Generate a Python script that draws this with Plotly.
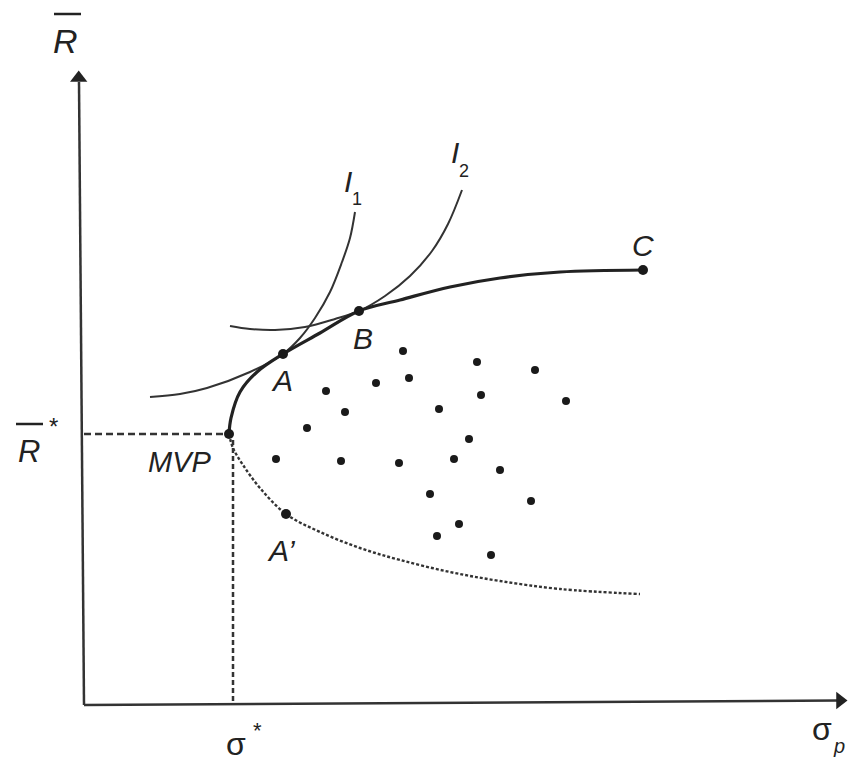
import plotly.graph_objects as go

# Data (pixel-like units, y grows downward)
frontier_upper_x = [229, 231, 240, 257, 283, 320, 359, 400, 450, 500, 560, 643]
frontier_upper_y = [434, 418, 392, 372, 354, 333, 311, 300, 287, 278, 272, 270]
frontier_lower_x = [229, 233, 243, 260, 286, 320, 360, 400, 450, 500, 560, 640]
frontier_lower_y = [434, 448, 465, 488, 514, 532, 548, 560, 572, 581, 589, 594]
i1_x = [150, 180, 207, 250, 283, 300, 315, 330, 342, 350, 355]
i1_y = [397, 394, 388, 372, 354, 338, 318, 292, 262, 238, 212]
i2_x = [230, 250, 275, 305, 335, 359, 385, 410, 432, 448, 462]
i2_y = [326, 329, 330, 327, 319, 311, 296, 276, 251, 224, 190]
key_names = ["MVP", "A", "B", "C", "A'"]
key_x = [229, 283, 359, 643, 286]
key_y = [434, 354, 311, 270, 514]
asset_x = [403, 477, 535, 326, 376, 409, 481, 566, 345, 439, 307, 469,
           276, 341, 399, 454, 500, 430, 531, 459, 437, 491]
asset_y = [351, 362, 370, 391, 383, 378, 395, 401, 412, 409, 428, 439,
           459, 461, 463, 459, 470, 494, 501, 524, 536, 555]
mvp_sigma = 233
mvp_r = 434
origin_x = 84
origin_y = 705

FONT = "Liberation Sans"
INK = "#222"

fig = go.Figure()

# axes
fig.add_trace(go.Scatter(x=[origin_x, 79], y=[origin_y, 82], mode="lines",
                         line=dict(color="#333", width=2.5), hoverinfo="skip"))
fig.add_trace(go.Scatter(x=[origin_x, 838], y=[origin_y, 700.5], mode="lines",
                         line=dict(color="#333", width=2.5), hoverinfo="skip"))
fig.add_trace(go.Scatter(x=[78.7], y=[78], mode="markers",
                         marker=dict(symbol="triangle-up", size=15, color="#222"),
                         hoverinfo="skip"))
fig.add_trace(go.Scatter(x=[840], y=[700.5], mode="markers",
                         marker=dict(symbol="triangle-right", size=15, color="#222"),
                         hoverinfo="skip"))

# dashed guides
fig.add_trace(go.Scatter(x=[origin_x, mvp_sigma - 4], y=[mvp_r, mvp_r], mode="lines",
                         line=dict(color="#333", width=2.5, dash="7px,4px"), hoverinfo="skip"))
fig.add_trace(go.Scatter(x=[mvp_sigma, mvp_sigma], y=[mvp_r + 6, origin_y], mode="lines",
                         line=dict(color="#333", width=2.5, dash="5px,3px"), hoverinfo="skip"))

# indifference curves
fig.add_trace(go.Scatter(x=i1_x, y=i1_y, mode="lines", line=dict(color="#333", width=2, shape="spline"),
                         hoverinfo="skip"))
fig.add_trace(go.Scatter(x=i2_x, y=i2_y, mode="lines", line=dict(color="#333", width=2, shape="spline"),
                         hoverinfo="skip"))

# frontier
fig.add_trace(go.Scatter(x=frontier_lower_x, y=frontier_lower_y, mode="lines",
                         line=dict(color="#333", width=2.4, dash="3px,2px", shape="spline"),
                         hoverinfo="skip"))
fig.add_trace(go.Scatter(x=frontier_upper_x, y=frontier_upper_y, mode="lines",
                         line=dict(color=INK, width=3.2, shape="spline"), hoverinfo="skip"))

# assets and key points
fig.add_trace(go.Scatter(x=asset_x, y=asset_y, mode="markers",
                         marker=dict(size=8, color="#1a1a1a"), hoverinfo="skip"))
fig.add_trace(go.Scatter(x=key_x, y=key_y, mode="markers",
                         marker=dict(size=10, color="#1a1a1a"), text=key_names, hoverinfo="text"))

# labels
def label(x, y, text, size=30):
    fig.add_annotation(x=x, y=y, text=text, showarrow=False, xref="x", yref="y",
                       font=dict(family=FONT, size=size, color=INK),
                       xanchor="center", yanchor="middle")

label(65, 41, "<i>R</i>", 34)
label(29, 451, "<i>R</i>", 31)
label(53, 426, "*", 24)
label(180, 462, "<i>MVP</i>", 29)
label(282, 380, "<i>A</i>", 30)
label(363, 338, "<i>B</i>", 30)
label(643, 245, "<i>C</i>", 30)
label(281, 550, "<i>A’</i>", 30)
label(348, 181, "<i>I</i>", 30)
label(357, 199, "1", 18)
label(455, 152, "<i>I</i>", 30)
label(464, 171, "2", 18)
label(236, 744, "σ", 32)
label(257, 730, "*", 22)
label(822, 729, "σ", 32)
label(839, 746, "<i>p</i>", 20)

# overbars on R
fig.add_shape(type="line", x0=54, x1=81, y0=14, y1=14, xref="x", yref="y",
              line=dict(color=INK, width=2.5))
fig.add_shape(type="line", x0=16, x1=43, y0=424, y1=424, xref="x", yref="y",
              line=dict(color=INK, width=2.5))

fig.update_layout(
    width=849, height=761, margin=dict(l=0, r=0, t=0, b=0),
    paper_bgcolor="white", plot_bgcolor="white", showlegend=False,
    xaxis=dict(range=[0, 849], visible=False, fixedrange=True),
    yaxis=dict(range=[761, 0], visible=False, fixedrange=True),
)

fig.write_html("out.html", config={"displayModeBar": False},
               post_script="document.body.style.margin='0px';document.body.style.overflow='hidden';")
